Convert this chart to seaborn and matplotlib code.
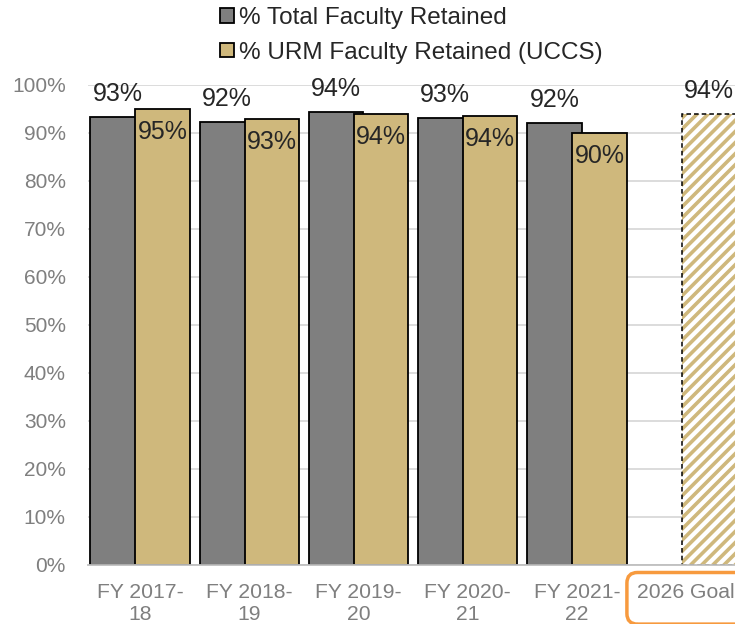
import pandas as pd
import matplotlib
matplotlib.use('Agg')
import matplotlib.pyplot as plt
import seaborn as sns
from matplotlib.patches import Rectangle

# Chart data
years = ['FY 2017-\n18', 'FY 2018-\n19', 'FY 2019-\n20', 'FY 2020-\n21', 'FY 2021-\n22', '2026 Goal']
total_retained = [93.3, 92.3, 94.3, 93.2, 92.0]
urm_retained = [95.0, 93.0, 94.0, 93.6, 90.0]
goal_2026 = 94.0
series = ['% Total Faculty Retained', '% URM Faculty Retained (UCCS)']
y_ticks = [0, 10, 20, 30, 40, 50, 60, 70, 80, 90, 100]

GRAY = '#7F7F7F'
GOLD = '#CFB87C'
TICK = '#7F7F7F'
ORANGE = '#F79A3E'

# Long-form table for seaborn
rows = []
for yr, v in zip(years[:5], total_retained):
    rows.append({'year': yr, 'value': v, 'series': series[0]})
for yr, v in zip(years[:5], urm_retained):
    rows.append({'year': yr, 'value': v, 'series': series[1]})
rows.append({'year': years[5], 'value': goal_2026, 'series': series[1]})
df = pd.DataFrame(rows)

sns.set_theme(style='white')
plt.rcParams['font.family'] = ['Liberation Sans', 'DejaVu Sans']
plt.rcParams['hatch.linewidth'] = 2.6

fig = plt.figure(figsize=(7.35, 6.24), dpi=100)
ax = fig.add_axes([88 / 735, 59 / 624, 647 / 735, 480 / 624])

sns.barplot(data=df, x='year', y='value', hue='series', order=years, hue_order=series,
            palette=[GRAY, GOLD], saturation=1, width=0.824, errorbar=None,
            edgecolor='black', linewidth=1.3, legend=False, ax=ax)

# bars overlap a little, like the Excel original
for cont in ax.containers:
    for p in cont.patches:
        c = p.get_x() + p.get_width() / 2
        p.set_width(0.495)
        p.set_x(c - 0.2475)

gray_bars = ax.containers[0].patches
gold_bars = ax.containers[1].patches

# goal bar: hatched with dashed outline
goal = gold_bars[-1]
goal.set_facecolor('white')
goal.set_edgecolor(GOLD)
goal.set_hatch('///')
goal.set_linewidth(0)
ax.add_patch(Rectangle(goal.get_xy(), goal.get_width(), goal.get_height(), fill=False,
                       edgecolor='black', linestyle=(0, (3, 2)), linewidth=1.1, zorder=goal.get_zorder() + 0.1))

# data labels
for p in gray_bars:
    ax.annotate(f'{p.get_height():.0f}%', (p.get_x() + p.get_width() / 2, p.get_height()),
                xytext=(0, 8), textcoords='offset points', ha='center', va='bottom', fontsize=18)
for p in gold_bars[:-1]:
    ax.annotate(f'{p.get_height():.0f}%', (p.get_x() + p.get_width() / 2, p.get_height()),
                xytext=(0, -8), textcoords='offset points', ha='center', va='top', fontsize=18)
ax.annotate(f'{goal.get_height():.0f}%', (goal.get_x() + goal.get_width() / 2, goal.get_height()),
            xytext=(0, 8), textcoords='offset points', ha='center', va='bottom', fontsize=18)

ax.set_xlim(-0.476, 5.446)
ax.set_ylim(0, 100)
ax.set_yticks(y_ticks)
ax.set_yticklabels([f'{t}%' for t in y_ticks])
ax.set_xlabel('')
ax.set_ylabel('')
ax.tick_params(axis='y', length=0, labelsize=15, labelcolor=TICK, pad=16)
ax.tick_params(axis='x', length=0, labelsize=15.2, labelcolor=TICK, pad=13)
ax.yaxis.grid(True, color='#D9D9D9', linewidth=1.3)
ax.set_axisbelow(True)
for s in ['left', 'top', 'right']:
    ax.spines[s].set_visible(False)
ax.spines['bottom'].set_color('#BFBFBF')
ax.spines['bottom'].set_linewidth(1.3)

ax.set_xticks(range(len(years)))
labels = list(years)
labels[-1] = '2026 Goal\n'
ax.set_xticklabels(labels)
goal_label = ax.get_xticklabels()[-1]
goal_label.set_linespacing(0.5)
goal_label.set_bbox(dict(boxstyle='round,pad=0.5,rounding_size=0.5',
                         facecolor='none', edgecolor=ORANGE, linewidth=2.5))

fig.legend([gray_bars[0], gold_bars[0]], series, loc='upper left', bbox_to_anchor=(203 / 735, 1.0 + 10 / 624),
           frameon=False, fontsize=17.5, handlelength=0.58, handleheight=0.55,
           handletextpad=0.2, labelspacing=0.52, borderpad=0.2)

fig.savefig('out.png', dpi=100)
